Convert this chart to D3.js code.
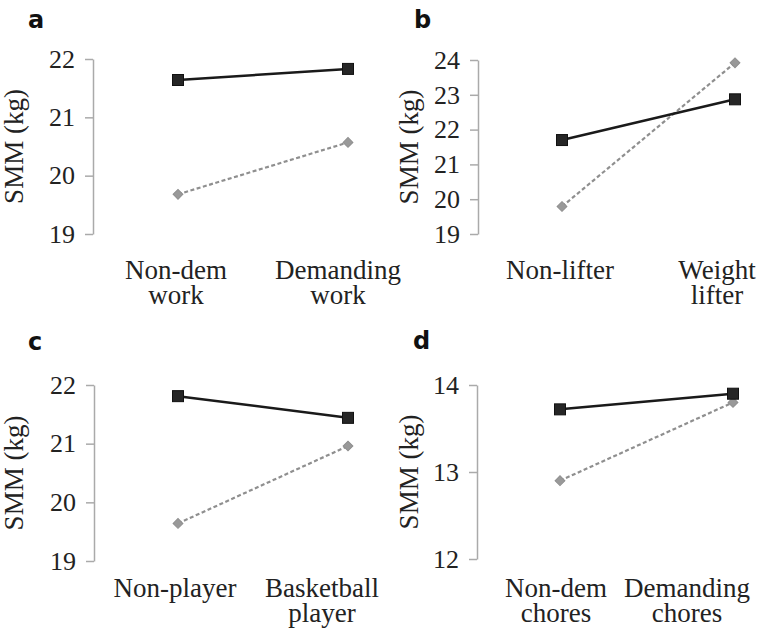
<!DOCTYPE html>
<html>
<head>
<meta charset="utf-8">
<script src="https://cdn.jsdelivr.net/npm/d3@7"></script>
</head>
<body style="margin:0">
<svg id="chart" width="764" height="639"></svg>
<script>
// ---- data ----
const panelLetters = ["a", "b", "c", "d"];
const categoriesA = ["Non-dem\nwork", "Demanding\nwork"];
const categoriesB = ["Non-lifter", "Weight\nlifter"];
const categoriesC = ["Non-player", "Basketball\nplayer"];
const categoriesD = ["Non-dem\nchores", "Demanding\nchores"];
const blackA = [21.64, 21.83];
const grayA  = [19.68, 20.57];
const blackB = [21.70, 22.87];
const grayB  = [19.79, 23.92];
const blackC = [21.81, 21.44];
const grayC  = [19.64, 20.96];
const blackD = [13.72, 13.90];
const grayD  = [12.90, 13.80];
const ticksA = [19, 20, 21, 22];
const ticksB = [19, 20, 21, 22, 23, 24];
const ticksC = [19, 20, 21, 22];
const ticksD = [12, 13, 14];
const yLabel = "SMM (kg)";

// ---- layout (labelShift: leftward shift of a category label so it stays inside the panel) ----
const layouts = [
  { axisX: 93,  yTop: 59,  yBot: 234, x0: 178, x1: 348, catBase: 279, lx: 28,  ly: 28,  ylx: 23,  labelShift: [2, 10] },
  { axisX: 478, yTop: 60,  yBot: 234, x0: 562, x1: 735, catBase: 279, lx: 414, ly: 28,  ylx: 418, labelShift: [2, 18] },
  { axisX: 94,  yTop: 385, yBot: 561, x0: 178, x1: 348, catBase: 597, lx: 28,  ly: 350, ylx: 23,  labelShift: [3, 26] },
  { axisX: 477, yTop: 385, yBot: 559, x0: 560, x1: 733, catBase: 597, lx: 413, ly: 349, ylx: 418, labelShift: [4, 46] }
];
const panels = [
  { cats: categoriesA, black: blackA, gray: grayA, ticks: ticksA },
  { cats: categoriesB, black: blackB, gray: grayB, ticks: ticksB },
  { cats: categoriesC, black: blackC, gray: grayC, ticks: ticksC },
  { cats: categoriesD, black: blackD, gray: grayD, ticks: ticksD }
];

const SERIF = `"Liberation Serif"`;
const svg = d3.select("#chart");

panels.forEach((p, i) => {
  const L = layouts[i];
  const y = d3.scaleLinear().domain(d3.extent(p.ticks)).range([L.yBot, L.yTop]);
  const x = d3.scalePoint().domain(p.cats).range([L.x0, L.x1]);

  // panel letter
  svg.append("text")
    .style("font-family", `"DejaVu Sans"`).style("font-weight", "bold")
    .attr("fill", "#111")
    .attr("x", L.lx).attr("y", L.ly)
    .attr("font-size", 24)
    .text(panelLetters[i]);

  // y axis
  const pad = 10, tsz = 8;
  const ax = svg.append("g").attr("transform", `translate(${L.axisX},0)`)
    .call(d3.axisLeft(y).tickValues(p.ticks).tickSize(tsz).tickSizeOuter(0).tickPadding(pad).tickFormat(d3.format("d")));
  ax.attr("font-family", null).attr("font-size", null);
  ax.select(".domain").attr("stroke", "#aaa").attr("stroke-width", 1.5);
  ax.selectAll(".tick line").attr("stroke", "#aaa").attr("stroke-width", 1.5);
  ax.selectAll(".tick text")
    .style("font-family", SERIF)
    .attr("font-size", 26)
    .attr("fill", "#222");

  // y label
  svg.append("text")
    .style("font-family", SERIF).attr("fill", "#222")
    .attr("font-size", 27)
    .attr("text-anchor", "middle")
    .attr("transform", `translate(${L.ylx},${(L.yTop + L.yBot) / 2}) rotate(-90)`)
    .text(yLabel);

  // category labels (one text per category, lines as tspans)
  p.cats.forEach((c, ci) => {
    const cx = x(c) - L.labelShift[ci];
    const t = svg.append("text")
      .style("font-family", SERIF).attr("fill", "#222")
      .attr("font-size", 27).attr("text-anchor", "middle");
    c.split("\n").forEach((ln, k) => {
      t.append("tspan").attr("x", cx).attr("y", L.catBase + k * 25).text(ln);
    });
  });

  // gray dashed series
  const lineGen = d3.line().x((d, k) => x(p.cats[k])).y(d => y(d));
  svg.append("path").datum(p.gray)
    .attr("d", lineGen)
    .attr("fill", "none").attr("stroke", "#8f8f8f")
    .attr("stroke-width", 2.2).attr("stroke-dasharray", "4,2.5");
  svg.append("g").selectAll("path").data(p.gray).enter().append("path")
    .attr("d", d3.symbol().type(d3.symbolSquare).size(48))
    .attr("transform", (d, k) => `translate(${x(p.cats[k])},${y(d)}) rotate(45)`)
    .attr("fill", "#999").attr("stroke", "#8f8f8f").attr("stroke-width", 1);

  // black solid series
  svg.append("path").datum(p.black)
    .attr("d", lineGen)
    .attr("fill", "none").attr("stroke", "#1a1a1a").attr("stroke-width", 2.5);
  svg.append("g").selectAll("rect").data(p.black).enter().append("rect")
    .attr("x", (d, k) => x(p.cats[k]) - 5.5)
    .attr("y", d => y(d) - 5.5)
    .attr("width", 11).attr("height", 11)
    .attr("fill", "#262626").attr("stroke", "#111").attr("stroke-width", 1);
});
</script>
</body>
</html>
